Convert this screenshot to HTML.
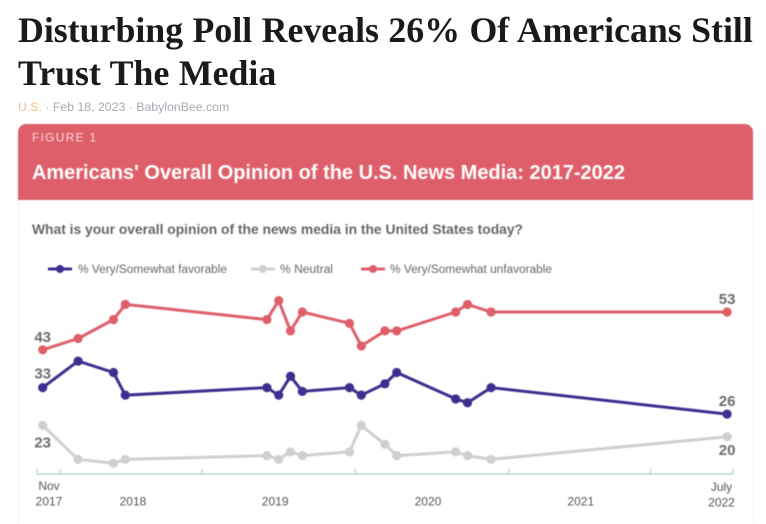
<!DOCTYPE html>
<html lang="en">
<head>
<meta charset="utf-8">
<title>Disturbing Poll Reveals 26% Of Americans Still Trust The Media</title>
<style>
html,body{margin:0;padding:0;background:#fff;width:766px;height:524px;overflow:hidden}
#headline{position:absolute;left:18px;top:9.4px;width:745px;margin:0;font:bold 35.8px/43px "Liberation Serif",serif;word-spacing:.5px;color:#1a1a1a;white-space:nowrap}
#meta{position:absolute;left:18px;top:100px;font:12.3px/15px "Liberation Sans",sans-serif;color:#a9a9b2;white-space:nowrap}
#meta b{font-weight:normal;color:#f2bd8b}
#figure{position:absolute;left:0;top:0;filter:blur(.4px)}
text{font-family:"Liberation Sans",sans-serif}
</style>
</head>
<body>
<h1 id="headline">Disturbing Poll Reveals 26% Of Americans Still<br>Trust The Media</h1>
<div id="meta"><b>U.S.</b> · Feb 18, 2023 · BabylonBee.com</div>
<svg id="figure" width="766" height="524" viewBox="0 0 766 524" xmlns="http://www.w3.org/2000/svg">
  <rect x="18.5" y="190" width="735" height="340" fill="#fff" stroke="#f1f3f3"/>
  <path d="M18 200V132a8 8 0 0 1 8-8H745a8 8 0 0 1 8 8V200Z" fill="#de5f69"/>
  <text x="32" y="141.500" font-size="12" fill="#f6d9dc" textLength="64">FIGURE 1</text>
  <text x="32" y="179" font-size="20" font-weight="bold" fill="#fff" textLength="593" lengthAdjust="spacingAndGlyphs">Americans' Overall Opinion of the U.S. News Media: 2017-2022</text>
  <text x="32" y="234" font-size="14" font-weight="bold" fill="#666" textLength="491" lengthAdjust="spacingAndGlyphs">What is your overall opinion of the news media in the United States today?</text>

  <g>
    <g>
      <line x1="48" x2="72" y1="269" y2="269" stroke="#3b2f8f" stroke-width="3"/><circle cx="60" cy="269" r="4" fill="#3b2f8f"/>
      <text x="78" y="273" font-size="11.500" fill="#666" textLength="149" lengthAdjust="spacingAndGlyphs">% Very/Somewhat favorable</text>
    </g>
    <g>
      <line x1="251" x2="275" y1="269" y2="269" stroke="#cfcfcf" stroke-width="3"/><circle cx="263" cy="269" r="4" fill="#cfcfcf"/>
      <text x="280" y="273" font-size="11.500" fill="#666" textLength="53" lengthAdjust="spacingAndGlyphs">% Neutral</text>
    </g>
    <g>
      <line x1="361" x2="385" y1="269" y2="269" stroke="#de5f69" stroke-width="3"/><circle cx="373" cy="269" r="4" fill="#de5f69"/>
      <text x="390" y="273" font-size="11.500" fill="#666" textLength="162" lengthAdjust="spacingAndGlyphs">% Very/Somewhat unfavorable</text>
    </g>
  </g>
  <g id="axis"></g>
  <g id="plot"></g>
</svg>
<script>
// Months since Nov 2017 for each poll wave
const waves = [0, 3, 6, 7, 19, 20, 21, 22, 26, 27, 29, 30, 35, 36, 38, 58];
const unfavorable = [43, 46, 51, 55, 51, 56, 48, 53, 50, 44, 48, 48, 53, 55, 53, 53];
const favorable = [33, 40, 37, 31, 33, 31, 36, 32, 33, 31, 34, 37, 30, 29, 33, 26];
const neutral = [23, 14, 13, 14, 15, 14, 16, 15, 16, 23, 18, 15, 16, 15, 14, 20];
const axisTicks = [-0.5, 1.5, 13.5, 26.5, 39.5, 51.5, 58.5];
const axisYears = ["2018", "2019", "2020", "2021"];
const axisYearMonths = [7.65, 19.7, 32.65, 45.6];

const NS = 'http://www.w3.org/2000/svg';
const xScale = m => 42.7 + 11.8 * m;
const yScale = v => 312 + (53 - v) * 3.78;

function make(parent, tag, attrs, text) {
  const el = document.createElementNS(NS, tag);
  for (const k in attrs) el.setAttribute(k, attrs[k]);
  if (text !== undefined) el.textContent = text;
  parent.appendChild(el);
  return el;
}

const axis = document.getElementById('axis');
const plot = document.getElementById('plot');

const baseline = make(axis, 'line', {x1: xScale(axisTicks[0]), x2: xScale(axisTicks[axisTicks.length - 1]), y1: 474, y2: 474, stroke: '#a9d0c5', 'stroke-width': 1.2});



axisTicks.forEach(t => {
  const tick = make(axis, 'line', {x1: xScale(t), x2: xScale(t), y1: 469, y2: 474, stroke: '#a9d0c5', 'stroke-width': 1});
  
  
});

axisYears.forEach((label, i) => {
  const t = make(axis, 'text', {x: xScale(axisYearMonths[i]), y: 505.500, 'font-size': 12, fill: '#555', 'text-anchor': 'middle'}, label);
  
  
});

const nov = make(axis, 'text', {x: 49, y: 490, 'font-size': 12, fill: '#555', 'text-anchor': 'middle'}, 'Nov');


const y2017 = make(axis, 'text', {x: 49, y: 505.500, 'font-size': 12, fill: '#555', 'text-anchor': 'middle'}, '2017');


const july = make(axis, 'text', {x: 721.500, y: 491, 'font-size': 12, fill: '#555', 'text-anchor': 'middle'}, 'July');


const y2022 = make(axis, 'text', {x: 721.500, y: 506.500, 'font-size': 12, fill: '#555', 'text-anchor': 'middle'}, '2022');



function drawSeries(values, color, key) {
  const g = make(plot, 'g', {});
  
  
  const pts = values.map((v, i) => xScale(waves[i]).toFixed(1) + ',' + yScale(v).toFixed(1)).join(' ');
  const line = make(g, 'polyline', {points: pts, fill: 'none', stroke: color, 'stroke-width': 3, 'stroke-linejoin': 'round'});
  
  
  values.forEach((v, i) => {
    const c = make(g, 'circle', {cx: xScale(waves[i]), cy: yScale(v), r: 4.6, fill: color});
    
    
  });
}

drawSeries(neutral, '#cfcfcf', 'neutral');
drawSeries(favorable, '#3b2f8f', 'favorable');
drawSeries(unfavorable, '#de5f69', 'unfavorable');

function endLabel(value, month, dy, key) {
  const t = make(plot, 'text', {x: xScale(month), y: yScale(value) + dy, 'font-size': 15, 'font-weight': 'bold', fill: '#6b6b6b', 'text-anchor': 'middle'}, String(value));
  
  
}

const lastWave = waves[waves.length - 1];
endLabel(unfavorable[0], waves[0], -8, 'unfavorable-start');
endLabel(favorable[0], waves[0], -9, 'favorable-start');
endLabel(neutral[0], waves[0], 22, 'neutral-start');
endLabel(unfavorable[unfavorable.length - 1], lastWave, -8, 'unfavorable-end');
endLabel(favorable[favorable.length - 1], lastWave, -8, 'favorable-end');
endLabel(neutral[neutral.length - 1], lastWave, 18.500, 'neutral-end');
</script>
</body>
</html>
